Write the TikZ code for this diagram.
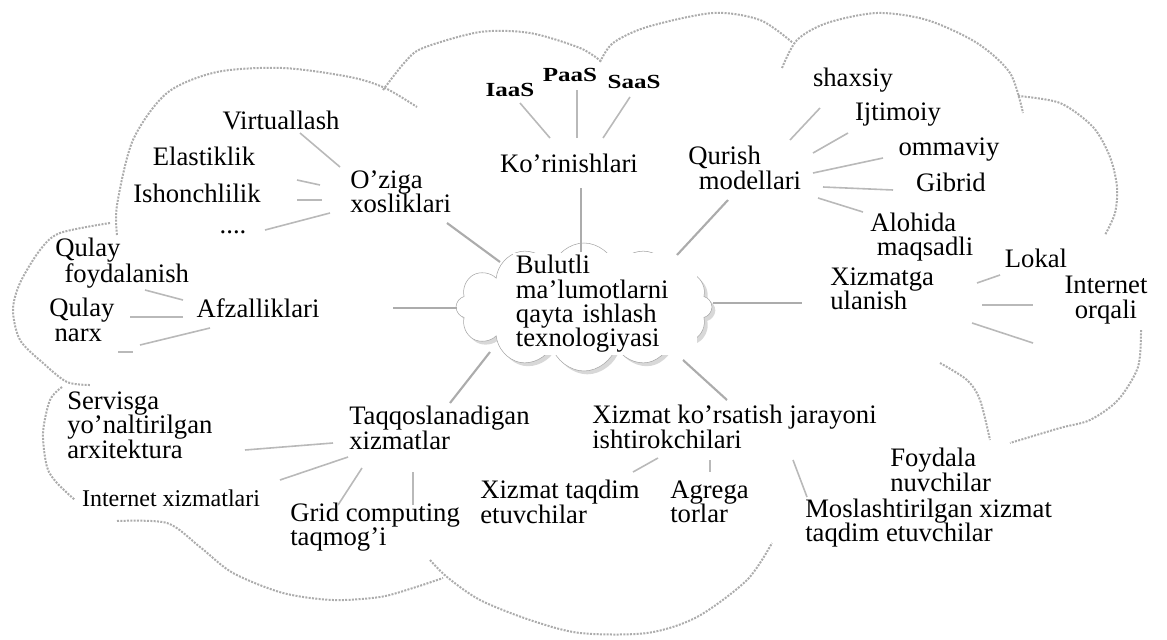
\documentclass[tikz,border=0pt]{standalone}
\usepackage{fontspec}
\setmainfont{Liberation Serif}
\usetikzlibrary{shapes.symbols,shadows}

\begin{document}
\begin{tikzpicture}[x=0.75pt,y=-0.75pt,
	every node/.style={font=\fontsize{20}{18.3}\selectfont, inner sep=1.5pt},
	lbl/.style={anchor=west, align=left},
	sml/.style={font=\fontsize{15}{15}\selectfont\bfseries\addfontfeatures{FakeStretch=1.25}},
	link/.style={draw=gray!55, line width=1.2pt},
	spoke/.style={draw=gray!65, line width=1.6pt},
	rim/.style={draw=gray!65, densely dotted, line width=1.5pt}]
	\useasboundingbox (0,0) rectangle (1167,639);
	
	% outer cloud
	\draw[rim] plot[smooth] coordinates {(117,235) (117,205) (133,140) (167,93) (217,72) (283,68) (350,77) (385,88) (417,107)};
	\draw[rim] plot[smooth] coordinates {(383,90) (405,62) (423,48) (480,32) (530,33) (580,48) (602,62)};
	\draw[rim] plot[smooth] coordinates {(600,62) (613,43) (647,27) (713,13) (760,20) (793,43)};
	\draw[rim] plot[smooth] coordinates {(782,68) (797,40) (827,23) (877,13) (927,20) (977,43) (1010,73) (1023,113)};
	\draw[rim] plot[smooth] coordinates {(1018,96) (1060,103) (1093,127) (1110,157) (1117,187) (1115,213) (1105,235)};
	\draw[rim] plot[smooth] coordinates {(1141,330) (1138,367) (1118,400) (1090,420) (1060,428) (1010,443)};
	\draw[rim] plot[smooth] coordinates {(940,363) (967,380) (980,400) (990,440)};
	\draw[rim] plot[smooth] coordinates {(430,560) (447,577) (480,600) (530,620) (580,633) (647,633) (697,617) (747,580) (772,543)};
	\draw[rim] plot[smooth] coordinates {(117,521) (167,523) (200,547) (233,573) (283,593) (333,600) (380,597) (413,588) (443,578)};
	\draw[rim] plot[smooth] coordinates {(62,387) (50,400) (43,433) (47,467) (57,483) (75,500)};
	\draw[rim] plot[smooth] coordinates {(110,223) (60,233) (40,250) (20,283) (13,310) (20,340) (43,363) (67,382) (90,385)};
	
	% centre
	\node[cloud, cloud puffs=12, cloud ignores aspect, draw=gray!70, fill=white, minimum width=192pt, minimum height=96pt,
		drop shadow={shadow xshift=2.5pt, shadow yshift=-2.5pt, fill=gray!60}] (cloudc) at (584,307) {};
	\node[lbl, fill=white, text width=134pt, inner sep=2pt] (bulut) at (513,304) {Bulutli\\ma'lumotlarni\\qayta ishlash\\texnologiyasi};
	
	% branches
	\node[lbl] (oziga) at (348,192) {O'ziga\\xosliklari};
	\node (virt) at (281,120) {Virtuallash};
	\node (elast) at (204,156) {Elastiklik};
	\node (ishon) at (197,193) {Ishonchlilik};
	\node (etc) at (233,232) {....};
	
	\node (kor) at (569,163) {Ko'rinishlari};
	\node[sml] (iaas) at (510,90) {IaaS};
	\node[sml] (paas) at (570,75) {PaaS};
	\node[sml] (saas) at (634,82) {SaaS};
	
	\node[lbl] (qurish) at (686,168) {Qurish\\\hspace*{8pt}modellari};
	\node (shax) at (853,80) {shaxsiy};
	\node (ijt) at (898,115) {Ijtimoiy};
	\node (omm) at (949,150) {ommaviy};
	\node (gib) at (951,182) {Gibrid};
	\node[lbl] (aloh) at (868,237) {Alohida\\\hspace*{5pt}maqsadli};
	
	\node[lbl] (xizul) at (828,289) {Xizmatga\\ulanish};
	\node (lokal) at (1036,258) {Lokal};
	\node[align=center] (inet) at (1106,300) {Internet\\orqali};
	\coordinate (xend) at (1033,343);
	
	\node (afz) at (258,308) {Afzalliklari};
	\node[lbl] (qfoy) at (53,263) {Qulay\\\hspace*{7pt}foydalanish};
	\node[lbl] (qnarx) at (47,320) {Qulay\\\hspace*{4pt}narx};
	\coordinate (afzend) at (140,345);
	\coordinate (afzdash) at (118,352);
	
	\node[lbl] (taqq) at (347,428) {Taqqoslanadigan\\xizmatlar};
	\node[lbl] (serv) at (65,425) {Servisga\\yo'naltirilgan\\arxitektura};
	\node[font=\fontsize{18}{18}\selectfont] (iserv) at (171,498) {Internet xizmatlari};
	\node[lbl] (grid) at (288,527) {Grid computing\\taqmog'i};
	
	\node[lbl] (xkj) at (590,427) {Xizmat ko'rsatish jarayoni\\ishtirokchilari};
	\node[lbl] (xtaq) at (478,502) {Xizmat taqdim\\etuvchilar};
	\node[lbl] (agr) at (668,502) {Agrega\\torlar};
	\node[lbl] (foyd) at (888,470) {Foydala\\nuvchilar};
	\node[lbl] (mosl) at (803,523) {Moslashtirilgan xizmat\\taqdim etuvchilar};
	
	% spokes
	\draw[spoke] ([shift={(-84,-45)}]cloudc.center) -- ([shift={(99,31)}]oziga.west);
	\draw[spoke, line width=2.2pt] ([shift={(-3,-55)}]cloudc.center) -- ([shift={(12,25)}]kor.center);
	\draw[spoke] ([shift={(93,-52)}]cloudc.center) -- ([shift={(42,32)}]qurish.west);
	\draw[spoke] ([shift={(-127,1)}]cloudc.center) -- ([shift={(135,0)}]afz.center);
	\draw[spoke] ([shift={(129,-4)}]cloudc.center) -- ([shift={(-26,14)}]xizul.west);
	\draw[spoke] ([shift={(-94,45)}]cloudc.center) -- ([shift={(103,-25)}]taqq.west);
	\draw[spoke] ([shift={(99,53)}]cloudc.center) -- ([shift={(137,-27)}]xkj.west);
	
	% leaves
	\draw[link] ([shift={(-8,-25)}]oziga.west) -- ([shift={(19,13)}]virt.center);
	\draw[link] ([shift={(-28,-7)}]oziga.west) -- ([shift={(93,24)}]elast.center);
	\draw[link] ([shift={(-26,8)}]oziga.west) -- ([shift={(100,7)}]ishon.center);
	\draw[link] ([shift={(-18,21)}]oziga.west) -- ([shift={(32,-2)}]etc.center);
	
	\draw[link] ([shift={(-19,-25)}]kor.center) -- ([shift={(10,13)}]iaas.center);
	\draw[link] ([shift={(8,-25)}]kor.center) -- ([shift={(7,15)}]paas.center);
	\draw[link] ([shift={(34,-25)}]kor.center) -- ([shift={(-4,15)}]saas.center);
	
	\draw[link] ([shift={(104,-28)}]qurish.west) -- ([shift={(-33,28)}]shax.center);
	\draw[link] ([shift={(127,-15)}]qurish.west) -- ([shift={(-50,18)}]ijt.center);
	\draw[link] ([shift={(127,5)}]qurish.west) -- ([shift={(-66,8)}]omm.center);
	\draw[link] ([shift={(137,19)}]qurish.west) -- ([shift={(-58,8)}]gib.center);
	\draw[link] ([shift={(132,30)}]qurish.west) -- ([shift={(-5,-25)}]aloh.west);
	
	\draw[link] ([shift={(149,-6)}]xizul.west) -- ([shift={(-36,17)}]lokal.center);
	\draw[link] ([shift={(154,16)}]xizul.west) -- ([shift={(-73,5)}]inet.center);
	\draw[link] ([shift={(144,34)}]xizul.west) -- (xend);
	
	\draw[link] ([shift={(-75,-8)}]afz.center) -- ([shift={(92,27)}]qfoy.west);
	\draw[link] ([shift={(-75,9)}]afz.center) -- ([shift={(83,-3)}]qnarx.west);
	\draw[link] ([shift={(-48,20)}]afz.center) -- (afzend);
	\draw[link] (afzdash) -- ++(15,0);
	
	\draw[link] ([shift={(-14,15)}]taqq.west) -- ([shift={(180,25)}]serv.west);
	\draw[link] ([shift={(1,29)}]taqq.west) -- ([shift={(109,-18)}]iserv.center);
	\draw[link] ([shift={(15,40)}]taqq.west) -- ([shift={(50,-22)}]grid.west);
	\draw[link] ([shift={(66,44)}]taqq.west) -- ([shift={(125,-22)}]grid.west);
	
	\draw[link] ([shift={(68,31)}]xkj.west) -- ([shift={(155,-30)}]xtaq.west);
	\draw[link] ([shift={(120,33)}]xkj.west) -- ([shift={(42,-30)}]agr.west);
	\draw[link] ([shift={(203,33)}]xkj.west) -- ([shift={(4,-26)}]mosl.west);
\end{tikzpicture}
\end{document}
